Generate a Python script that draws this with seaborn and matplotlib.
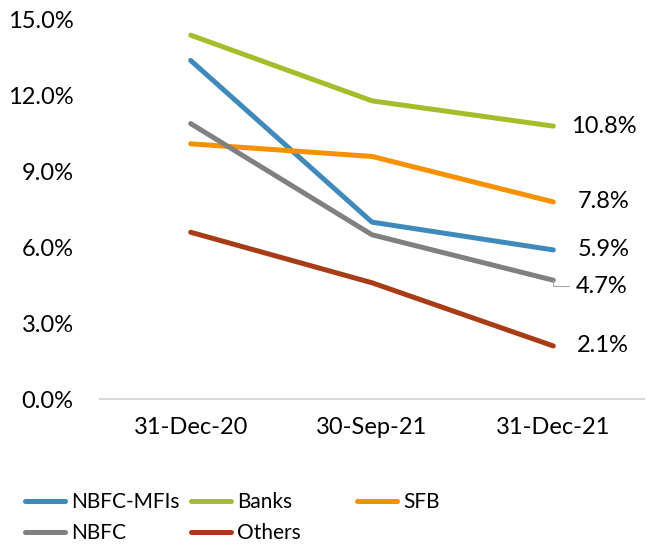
import matplotlib
matplotlib.use("Agg")
import matplotlib.pyplot as plt
import seaborn as sns
import pandas as pd
from matplotlib.ticker import FuncFormatter, FixedLocator

periods = ["31-Dec-20", "30-Sep-21", "31-Dec-21"]
series_names = ["NBFC-MFIs", "Banks", "SFB", "NBFC", "Others"]
nbfc_mfis = [13.4, 7.0, 5.9]
banks = [14.4, 11.8, 10.8]
sfb = [10.1, 9.6, 7.8]
nbfc = [10.9, 6.5, 4.7]
others = [6.6, 4.6, 2.1]
end_labels = ["5.9%", "10.8%", "7.8%", "4.7%", "2.1%"]
colors = ["#3F8ABA", "#A4BD2B", "#F79100", "#808080", "#A83C16"]

values = [nbfc_mfis, banks, sfb, nbfc, others]
rows = []
for name, vals in zip(series_names, values):
    for p, v in zip(periods, vals):
        rows.append({"Period": p, "Series": name, "Value": v})
df = pd.DataFrame(rows)

sns.set_theme(style="white")
plt.rcParams["font.family"] = ["Lato", "DejaVu Sans"]

fig = plt.figure(figsize=(6.52, 5.46), dpi=100)
ax = fig.add_axes([100/652, 1-399/546, 544/652, 379/546])

sns.lineplot(data=df, x="Period", y="Value", hue="Series", hue_order=series_names,
             palette=colors, linewidth=3.6, sort=False, ax=ax, legend=True)
for ln in ax.get_lines():
    ln.set_solid_capstyle("round")

ax.set_xlim(-0.5, 2.5)
ax.set_ylim(0, 15)
ax.yaxis.set_major_locator(FixedLocator([0, 3, 6, 9, 12, 15]))
ax.yaxis.set_major_formatter(FuncFormatter(lambda v, p: f"{v:.1f}%"))
ax.set_xlabel("")
ax.set_ylabel("")
for s in ["top", "right", "left"]:
    ax.spines[s].set_visible(False)
ax.spines["bottom"].set_color("#D9D9D9")
ax.spines["bottom"].set_linewidth(1.5)
ax.set_xticks([-0.5, 0.5, 1.5, 2.5], minor=True)
ax.tick_params(axis="x", which="minor", length=7, width=1.5, color="#D9D9D9", direction="out")
ax.tick_params(axis="x", which="major", length=0, pad=13, labelsize=17, labelcolor="black")
ax.tick_params(axis="y", length=0, pad=19, labelsize=17, labelcolor="black")
ax.grid(False)

# end labels
for i, (name, vals, lab) in enumerate(zip(series_names, values, end_labels)):
    if name == "NBFC":
        ax.annotate(lab, xy=(2, vals[-1]), xytext=(22, -6), textcoords="offset pixels",
                    ha="left", va="center", fontsize=17, color="black",
                    arrowprops=dict(arrowstyle="-", color="#A6A6A6", lw=0.8,
                                    shrinkA=2, shrinkB=0,
                                    connectionstyle="angle,angleA=0,angleB=90,rad=0"))
    else:
        ax.annotate(lab, xy=(2, vals[-1]), xytext=(18 if name == "Banks" else 24, 0),
                    textcoords="offset pixels", ha="left", va="center", fontsize=17, color="black")

handles, labels = ax.get_legend_handles_labels()
ax.get_legend().remove()
hmap = dict(zip(labels, handles))
cols = [["NBFC-MFIs", "NBFC"], ["Banks", "Others"], ["SFB"]]
xs = [25, 191, 357]
for xpos, col in zip(xs, cols):
    hs = [hmap[c] for c in col]
    leg = fig.legend(hs, col, loc="upper left", bbox_to_anchor=(xpos/652, 1-492/546),
                     frameon=False, fontsize=15, handlelength=1.9, handletextpad=0.3,
                     labelspacing=0.55, borderaxespad=0, borderpad=0)
    for t in leg.get_texts():
        t.set_color("black")

fig.savefig("out.png", dpi=100)
